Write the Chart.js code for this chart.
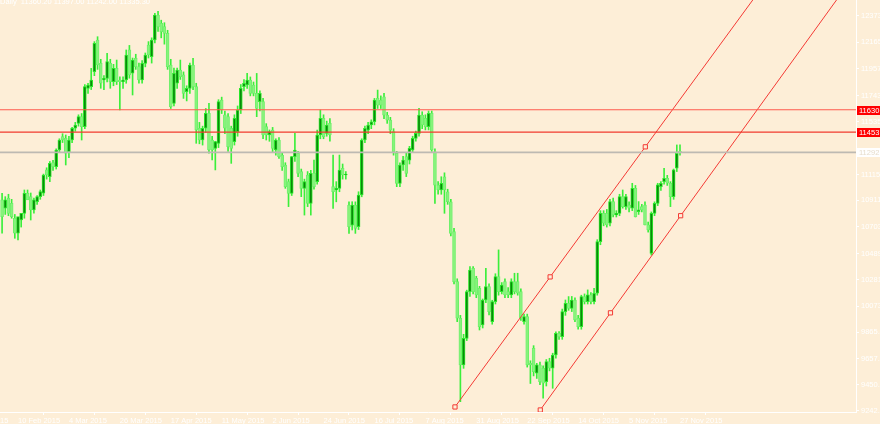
<!DOCTYPE html>
<html><head><meta charset="utf-8">
<script src="https://cdn.jsdelivr.net/npm/chart.js@4.4.0/dist/chart.umd.min.js"></script>
<style>html,body{margin:0;padding:0;background:#FDEED7;overflow:hidden}canvas{display:block;background:#FDEED7}</style>
</head><body>
<canvas id="c" width="880" height="424"></canvas>
<script>
// ---- data (daily bars, index 0 = 3 Feb 2015) ----
const open = [10915,10849,10928,10888,10770,10651,10756,10809,10968,10941,10835,10902,10941,10968,11153,11100,11211,11179,11311,11417,11404,11298,11390,11483,11522,11575,11496,11800,11813,11932,12183,11998,11866,11879,11998,11853,11958,11866,11853,11866,12104,11919,12038,11972,11866,11998,12143,12051,12183,12381,12315,12289,12236,11985,11681,11840,11945,11906,11773,11800,11985,11813,11483,11390,11483,11602,11390,11324,11364,11707,11589,11575,11482,11377,11456,11628,11813,11826,11866,11826,11760,11694,11694,11496,11430,11469,11311,11390,11271,11192,11060,10967,11258,11284,11139,11007,11113,10888,11126,11060,11430,11562,11443,11522,11020,10994,11007,11165,11113,10875,10716,10875,10703,10954,11390,11469,11509,11535,11720,11707,11733,11588,11548,11456,11284,11046,11192,11258,11231,11311,11403,11443,11588,11562,11496,11601,11297,11033,10994,11099,10980,10901,10664,10267,9977,9607,9818,10188,10373,10294,10215,9924,10122,10228,9951,10109,10307,10188,10267,10188,10162,10267,10267,10188,9951,9990,9620,9739,9541,9607,9581,9475,9633,9581,9686,9858,9832,10030,10096,10056,10122,9977,9911,10149,10109,10162,10109,10175,10585,10809,10809,10730,10902,10796,10809,10941,10862,10875,10849,11007,10822,10862,10875,10717,10492,10809,10888,11020,11060,11087,11047,10941,11166,11298];
const high = [10968,10941,10960,10920,10800,10770,10790,10994,10994,10970,10930,10950,10994,11120,11170,11220,11230,11320,11400,11440,11430,11420,11490,11530,11590,11600,11830,11840,11958,12170,12209,12030,11900,12077,12030,11990,12024,11890,11890,12104,12140,12040,12070,12000,12020,12080,12170,12200,12394,12410,12340,12320,12260,12030,11960,11960,12024,11930,11820,12000,12038,11840,11530,11500,11640,11680,11420,11380,11710,11730,11620,11600,11500,11590,11660,11830,11870,11918,11890,11850,11918,11780,11720,11520,11470,11490,11400,11410,11290,11210,11080,11260,11443,11300,11160,11080,11140,11150,11231,11469,11628,11590,11540,11560,11271,11060,11271,11200,11140,10900,10901,10900,10980,11400,11500,11530,11550,11720,11786,11740,11760,11610,11570,11480,11300,11210,11260,11290,11340,11420,11460,11641,11614,11590,11620,11620,11320,11060,11099,11130,11000,10920,10690,10290,10000,9850,10200,10386,10386,10310,10230,10130,10373,10250,10120,10330,10519,10260,10290,10220,10290,10334,10334,10210,10010,10010,9640,9760,9620,9630,9600,9650,9660,9700,9870,9871,10050,10122,10149,10150,10140,10000,10160,10170,10202,10180,10215,10600,10830,10830,10840,10920,10930,10830,10960,10994,10960,10900,11047,11030,10902,10880,10900,10740,10820,10900,11047,11060,11166,11110,11060,11160,11351,11351];
const low = [10651,10800,10790,10770,10611,10598,10700,10770,10920,10756,10810,10880,10920,10950,11080,11060,11150,11160,11290,11370,11192,11250,11370,11460,11500,11390,11480,11760,11790,11900,11950,11800,11790,11850,11800,11820,11830,11628,11800,11840,11880,11747,11950,11840,11840,11970,12040,12000,12160,12250,12200,12150,11950,11640,11660,11800,11870,11720,11700,11760,11790,11364,11360,11350,11450,11285,11232,11153,11330,11600,11440,11300,11205,11350,11420,11600,11780,11800,11740,11740,11575,11620,11400,11390,11380,11290,11270,11245,11150,11007,10862,10950,11220,11100,10941,10795,10862,10795,11000,11040,11400,11400,11420,11380,10848,10900,10980,11080,11080,10650,10677,10650,10680,10940,11370,11440,11480,11510,11640,11640,11560,11522,11440,11270,11020,11020,11150,11100,11200,11290,11380,11420,11480,11470,11470,11300,10888,10960,10960,10809,10880,10630,10250,9950,9316,9580,9800,10150,10170,10140,9884,9900,10100,10003,9930,10090,10160,10170,10140,10140,10140,10170,10160,9960,9930,9590,9460,9520,9500,9450,9343,9440,9560,9422,9660,9810,9810,10000,10040,10030,9950,9890,9890,10090,10090,10090,10090,10160,10560,10710,10700,10710,10780,10780,10790,10850,10840,10820,10830,10780,10800,10820,10717,10660,10478,10790,10870,10990,11040,11030,10862,10920,11140,11270];
const close = [10783,10915,10809,10783,10651,10783,10809,10968,10915,10835,10915,10941,10981,11113,11113,11205,11179,11311,11390,11390,11285,11390,11483,11509,11575,11496,11813,11826,11866,12157,11985,11840,11879,12011,11853,11958,11853,11853,11866,12064,11906,12024,11972,11866,11998,12064,12064,12183,12381,12289,12249,12236,11972,11655,11919,11945,11892,11760,11800,11985,11813,11470,11390,11483,11602,11311,11311,11377,11694,11628,11483,11338,11324,11562,11628,11799,11839,11866,11760,11760,11641,11760,11430,11430,11456,11324,11390,11258,11179,11020,10967,11258,11311,11126,11007,11060,10888,11126,11020,11430,11562,11416,11509,11430,10980,11007,11152,11113,11120,10703,10875,10690,10954,11390,11482,11509,11535,11707,11667,11667,11588,11548,11469,11297,11046,11192,11231,11126,11324,11403,11443,11588,11509,11496,11601,11311,11033,10994,11046,10994,10901,10650,10267,9977,9607,9818,10188,10360,10188,10162,9911,10122,10228,10030,10109,10307,10188,10241,10162,10162,10267,10188,10175,9977,9990,9607,9607,9554,9607,9475,9462,9633,9581,9686,9858,9832,10030,10096,10056,10122,9964,9911,10149,10109,10162,10109,10175,10585,10809,10730,10717,10902,10796,10809,10941,10862,10941,10849,11007,10783,10836,10836,10717,10677,10809,10888,11034,11047,11087,11047,10941,11153,11285,11292];

const xTickIndex  = [-11,5,21,37,53,69,85,101,117,133,149,165,181,197,213];
const xTickLabels = ["19 Jan 2015","10 Feb 2015","4 Mar 2015","26 Mar 2015","17 Apr 2015","11 May 2015","2 Jun 2015","24 Jun 2015","16 Jul 2015","7 Aug 2015","31 Aug 2015","22 Sep 2015","14 Oct 2015","5 Nov 2015","27 Nov 2015"];
const yTickValues = [12373.6,12165.4,11957.2,11743.0,11535.8,11115.6,10911.4,10703.2,10489.0,10281.8,10073.6,9865.4,9657.2,9450.0,9242.8];
const yTickLabels = ["12373.6","12165.4","11957.2","11743.0","11535.8","11115.6","10911.4","10703.2","10489.0","10281.8","10073.6","9865.4","9657.2","9450.0","9242.8"];
const levelPrices = [11630, 11453];
const lastPrice = 11292;
const titleText = "Daily  11360.20 11397.00 11242.00 11335.30";
const channelUpper = [{x:142.3,y:9274},{x:172.2,y:10305},{x:202.1,y:11336},{x:245,y:12815}];
const channelLower = [{x:169.1,y:9250},{x:191.15,y:10020},{x:213.2,y:10790},{x:270,y:12773}];
const anchorRadius = [3,3,3,0];
const xMin = -0.656, xMax = 268.3, yMin = 9234, yMax = 12500;

// ---- build ----
const idx = open.map((_, i) => i);
const bull = idx.map(i => close[i] >= open[i]);
const bodyData = idx.map(i => ({x: i, y: [open[i], close[i]]}));
const wickData = idx.map(i => ({x: i, y: [low[i], high[i]]}));
const hLine = (p) => [{x: xMin - 5, y: p}, {x: xMax + 5, y: p}];

const overlay = {
  id: 'overlay',
  afterDraw(chart) {
    const ctx = chart.ctx, ys = chart.scales.y, xs = chart.scales.x;
    ctx.save();
    ctx.font = '7.5px "Liberation Sans"';
    ctx.textBaseline = 'middle';
    levelPrices.forEach(p => {
      const py = Math.round(ys.getPixelForValue(p));
      ctx.fillStyle = '#FF0000';
      ctx.fillRect(xs.right + 1, py - 4, 30, 9);
      ctx.fillStyle = '#FFFFFF';
      ctx.fillText(String(p), xs.right + 3, py + 0.5);
    });
    const lp = Math.round(ys.getPixelForValue(lastPrice));
    ctx.fillStyle = '#FFFFFF';
    ctx.fillRect(xs.right + 1, lp - 4, 30, 9);
    ctx.fillStyle = '#E6DCCB';
    ctx.fillText(String(lastPrice), xs.right + 3, lp + 0.5);
    ctx.fillStyle = '#FFFFFF';
    ctx.textBaseline = 'alphabetic';
    ctx.font = '7.5px "Liberation Sans"';
    ctx.fillText(titleText, 0, 4);
    ctx.restore();
  }
};

new Chart(document.getElementById('c'), {
  type: 'bar',
  data: {
    datasets: [
      {type:'line', data: hLine(levelPrices[0]), borderColor:'#FF5A4E', borderWidth:1.2, pointRadius:0, order:0},
      {type:'line', data: hLine(levelPrices[1]), borderColor:'#F23A2E', borderWidth:1.2, pointRadius:0, order:0},
      {type:'line', data: hLine(lastPrice), borderColor:'#BDB9B2', borderWidth:1.6, pointRadius:0, order:0},
      {type:'line', data: channelUpper, borderColor:'#F43A34', borderWidth:1, pointStyle:'rect', pointRadius:anchorRadius, pointBackgroundColor:'#FDEED7', pointBorderColor:'#F43A34', pointBorderWidth:1, order:0},
      {type:'line', data: channelLower, borderColor:'#F43A34', borderWidth:1, pointStyle:'rect', pointRadius:anchorRadius, pointBackgroundColor:'#FDEED7', pointBorderColor:'#F43A34', pointBorderWidth:1, order:0},
      {data: bodyData, barThickness:3, minBarLength:1, borderWidth:1, borderSkipped:false,
       backgroundColor: ctx => bull[ctx.dataIndex] ? '#0A8A0A' : 'rgba(170,245,150,0.55)',
       borderColor: ctx => bull[ctx.dataIndex] ? '#2BEA2B' : '#6EF06A', order:1},
      {data: wickData, barThickness:1, borderWidth:0, backgroundColor:'#3BEF3B', order:2}
    ]
  },
  options: {
    responsive:false, animation:false, devicePixelRatio:1,
    layout:{padding:0, autoPadding:false},
    datasets:{bar:{grouped:false}},
    plugins:{legend:{display:false}, tooltip:{enabled:false}, title:{display:false}},
    events:[],
    scales:{
      x:{type:'linear', min:xMin, max:xMax, offset:false,
         grid:{drawOnChartArea:false, drawTicks:true, tickLength:3, color:'#FFFFFF'},
         border:{color:'#FFFFFF', width:1},
         ticks:{autoSkip:false, maxRotation:0, align:'start', padding:1, color:'#FFFFFF', font:{family:'Liberation Sans', size:7.5},
                callback:(v, i) => xTickLabels[i]},
         afterBuildTicks: s => { s.ticks = xTickIndex.map(v => ({value:v})); },
         afterFit: s => { s.height = 12; s.paddingLeft = 0; s.paddingRight = 0; }
      },
      y:{type:'linear', position:'right', min:yMin, max:yMax,
         grid:{drawOnChartArea:false, drawTicks:true, tickLength:3, color:'#FFFFFF'},
         border:{color:'#FFFFFF', width:1},
         ticks:{color:'#FFFFFF', padding:2, font:{family:'Liberation Sans', size:7.5},
                callback:(v, i) => yTickLabels[i]},
         afterBuildTicks: s => { s.ticks = yTickValues.map(v => ({value:v})); },
         afterFit: s => { s.width = 24; s.paddingTop = 0; s.paddingBottom = 0; }
      }
    }
  },
  plugins:[overlay]
});
</script>
</body></html>
